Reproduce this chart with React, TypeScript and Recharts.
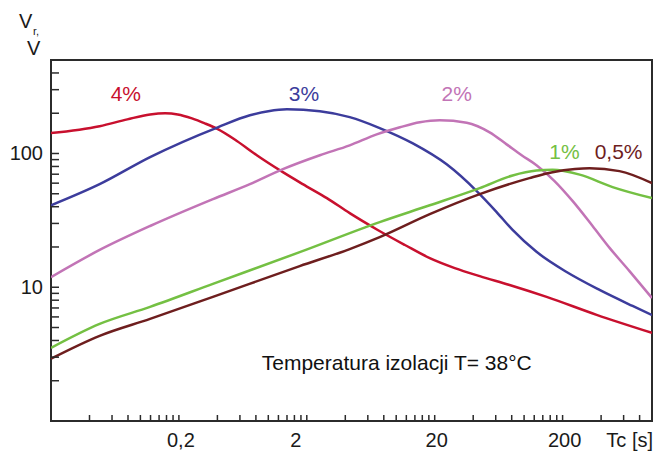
import React from "react";
import { LineChart, Line, XAxis, YAxis, ReferenceArea, ReferenceDot } from "recharts";

// Tc [s] (x) and Vr [V] (y), per insulation loss level
const red4T = [0.02, 0.048, 0.079, 0.119, 0.156, 0.196, 0.253, 0.319, 0.403, 0.568, 0.813, 1.3, 1.86, 2.87, 4.33, 7.17, 11.7, 18.3, 28.7, 45, 77, 150, 369, 1000];
const red4V = [142, 160, 180, 196, 200, 196, 183, 168, 152, 124, 97, 72.5, 59, 46.4, 35.8, 26.8, 20.7, 16.5, 13.9, 12.1, 10.4, 8.47, 6.22, 4.56];

const blue3T = [0.02, 0.048, 0.119, 0.403, 0.718, 1.0, 1.4, 2.53, 4.33, 7.43, 13.5, 24.8, 42.6, 61, 81.3, 125, 215, 389, 705, 1000];
const blue3V = [41, 59, 94, 157, 193, 207, 214, 207, 187, 155, 119, 83, 52.4, 36.5, 26.8, 18.4, 13, 9.55, 7.25, 6.2];

const pink2T = [0.02, 0.048, 0.119, 0.369, 0.718, 1.3, 2.53, 4.33, 7.04, 10.7, 15.3, 21.9, 35.6, 53.8, 73, 95.7, 125, 173, 240, 343, 466, 667, 1000];
const pink2V = [11.9, 19, 28.7, 45.6, 59, 76.4, 97.1, 115, 139, 157, 171, 177, 170, 144, 117, 97.1, 81.8, 62.2, 44, 28.7, 19.7, 13.2, 8.3];

const green1T = [0.02, 0.048, 0.119, 0.369, 1.76, 7.43, 18.3, 45, 81.3, 125, 167, 272, 492, 1000];
const green1V = [3.52, 5.32, 7.13, 10.6, 18.3, 30.7, 41, 55.1, 68.5, 74.5, 75.5, 69.5, 56.1, 46.4];

const brown05T = [0.02, 0.048, 0.119, 0.369, 1.76, 4.33, 7.43, 18.3, 45, 110, 167, 250, 325, 557, 1000];
const brown05V = [2.92, 4.33, 5.8, 8.47, 14.4, 19.3, 23.7, 35.2, 49.7, 65.4, 72.5, 76.5, 77.5, 73.8, 60];

const xTicks = [0.04, 0.06, 0.08, 0.1, 0.12, 0.14, 0.16, 0.18, 0.2, 0.4, 0.6, 0.8, 1, 1.2, 1.4, 1.6, 1.8, 2, 4, 6, 8, 10, 12, 14, 16, 18, 20, 40, 60, 80, 100, 120, 140, 160, 180, 200, 400, 600, 800];
const xLabelValues = [0.2, 2, 20, 200];
const xLabelTexts = ["0,2", "2", "20", "200"];

const yTicks = [2, 3, 4, 5, 6, 7, 8, 9, 10, 20, 30, 40, 50, 60, 70, 80, 90, 100, 200, 300, 400];
const yLabelValues = [10, 100];
const yLabelTexts = ["10", "100"];

const seriesNames = ["4%", "3%", "2%", "1%", "0,5%"];
const seriesColors = ["#c8102e", "#3c3c9c", "#c274b6", "#74c043", "#6e1e1e"];
const labelT = [0.077, 1.9, 29.7, 207, 548];
const labelV = [282, 282, 282, 104, 104];

const noteText = "Temperatura izolacji T= 38°C";
const noteT = 10.1;
const noteV = 2.72;

const toPoints = (ts: number[], vs: number[]) => ts.map((t, i) => ({ t, v: vs[i] }));
const series = [
  toPoints(red4T, red4V),
  toPoints(blue3T, blue3V),
  toPoints(pink2T, pink2V),
  toPoints(green1T, green1V),
  toPoints(brown05T, brown05V),
];

const FONT = "'Liberation Sans', Arial, Helvetica, sans-serif";
const AXIS = "#2b2b2b";

const XTick = (props: any) => {
  const { x, y, payload } = props;
  const idx = xLabelValues.findIndex((v) => Math.abs(v - payload.value) < 1e-9);
  return (
    <g>
      <line x1={x} y1={y} x2={x} y2={y - 6} stroke={AXIS} strokeWidth={1.5} />
      {idx >= 0 && (
        <text x={x + (xLabelTexts[idx] === "2" ? -11 : 2)} y={y + 26} textAnchor="middle" fontSize={20} fontFamily={FONT} fill="#1a1a1a">
          {xLabelTexts[idx]}
        </text>
      )}
    </g>
  );
};

const YTick = (props: any) => {
  const { x, y, payload } = props;
  const idx = yLabelValues.findIndex((v) => Math.abs(v - payload.value) < 1e-9);
  return (
    <g>
      <line x1={x} y1={y} x2={x + 8} y2={y} stroke={AXIS} strokeWidth={1.5} />
      {idx >= 0 && (
        <text x={x - 8} y={y + 7} textAnchor="end" fontSize={20} fontFamily={FONT} fill="#1a1a1a">
          {yLabelTexts[idx]}
        </text>
      )}
    </g>
  );
};

export default function App() {
  return (
    <div style={{ position: "absolute", left: 0, top: 0, width: 658, height: 452, background: "#fff" }}>
      <LineChart width={658} height={452} margin={{ top: 60, right: 6, bottom: 0, left: 0 }}>
        <XAxis
          dataKey="t"
          type="number"
          scale="log"
          domain={[0.02, 1000]}
          ticks={xTicks}
          allowDataOverflow
          height={31}
          tickSize={0}
          tickMargin={0}
          axisLine={false}
          tickLine={false}
          tick={<XTick />}
          interval={0}
        />
        <YAxis
          dataKey="v"
          type="number"
          scale="log"
          domain={[1, 500]}
          ticks={yTicks}
          allowDataOverflow
          width={51}
          tickSize={0}
          tickMargin={0}
          axisLine={false}
          tickLine={false}
          tick={<YTick />}
          interval={0}
        />
        <ReferenceArea x1={0.02} x2={1000} y1={1} y2={500} fill="none" stroke={AXIS} strokeWidth={2} ifOverflow="visible" />
        {series.map((d, i) => (
          <Line
            key={seriesNames[i]}
            data={d}
            dataKey="v"
            type="monotone"
            stroke={seriesColors[i]}
            strokeWidth={2.5}
            dot={false}
            activeDot={false}
            isAnimationActive={false}
          />
        ))}
        {seriesNames.map((name, i) => (
          <ReferenceDot
            key={"lbl" + name}
            x={labelT[i]}
            y={labelV[i]}
            ifOverflow="visible"
            shape={(p: any) => (
              <text x={p.cx} y={p.cy} textAnchor="middle" dominantBaseline="central" fontSize={21} fontFamily={FONT} fill={seriesColors[i]}>
                {name}
              </text>
            )}
          />
        ))}
        <ReferenceDot
          x={noteT}
          y={noteV}
          ifOverflow="visible"
          shape={(p: any) => (
            <text x={p.cx} y={p.cy} textAnchor="middle" dominantBaseline="central" fontSize={21} fontFamily={FONT} fill="#111">
              {noteText}
            </text>
          )}
        />
      </LineChart>
      <svg width={658} height={452} style={{ position: "absolute", left: 0, top: 0, pointerEvents: "none" }}>
        <text x={19} y={28} fontSize={20} fontFamily={FONT} fill="#1a1a1a">V</text>
        <text x={33} y={35} fontSize={11} fontFamily={FONT} fill="#1a1a1a">r,</text>
        <text x={27} y={55} fontSize={20} fontFamily={FONT} fill="#1a1a1a">V</text>
        <text x={653} y={447} textAnchor="end" fontSize={20} fontFamily={FONT} fill="#1a1a1a">Tc [s]</text>
      </svg>
    </div>
  );
}
